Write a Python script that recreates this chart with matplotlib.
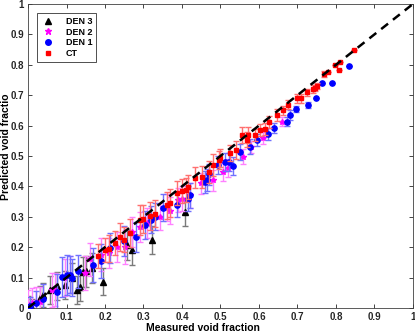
import matplotlib
matplotlib.use("Agg")
import matplotlib.pyplot as plt
from matplotlib.lines import Line2D

plt.rcParams['font.family'] = ['Liberation Sans', 'DejaVu Sans']
plt.rcParams['font.weight'] = 'bold'

# CT (red squares)
ct_x = [0.182, 0.20, 0.21, 0.226, 0.24, 0.25, 0.265, 0.29, 0.30, 0.318, 0.33, 0.36, 0.37, 0.387,
        0.40, 0.41, 0.416, 0.434, 0.452, 0.47, 0.48, 0.496, 0.50, 0.525, 0.54, 0.556, 0.569, 0.571,
        0.59, 0.603, 0.615, 0.626, 0.646, 0.663, 0.676, 0.698, 0.71, 0.724, 0.74, 0.745, 0.75,
        0.77, 0.78, 0.797, 0.808, 0.81, 0.847]
ct_y = [0.171, 0.19, 0.195, 0.214, 0.233, 0.225, 0.247, 0.289, 0.293, 0.303, 0.31, 0.338, 0.345, 0.378,
        0.385, 0.388, 0.398, 0.428, 0.431, 0.447, 0.47, 0.487, 0.493, 0.51, 0.52, 0.569, 0.553, 0.569,
        0.57, 0.586, 0.59, 0.612, 0.635, 0.651, 0.668, 0.69, 0.69, 0.71, 0.72, 0.725, 0.73,
        0.77, 0.776, 0.80, 0.783, 0.81, 0.849]
ct_err = [0.04, 0.04, 0.045, 0.04, 0.045, 0.04, 0.045, 0.05, 0.045, 0.045, 0.045, 0.045, 0.045, 0.04,
          0.04, 0.04, 0.04, 0.035, 0.035, 0.035, 0.035, 0.03, 0.03, 0.025, 0.03, 0.025, 0.025, 0.025,
          0.02, 0.02, 0.02, 0.02, 0.02, 0.015, 0.015, 0.015, 0.015, 0.012, 0.012, 0.01, 0.01,
          0.01, 0.0, 0.0, 0.0, 0.0, 0.0]

# DEN 1 (blue circles)
d1_x = [0.005, 0.02, 0.04, 0.075, 0.088, 0.101, 0.11, 0.114, 0.13, 0.169, 0.19, 0.213, 0.25, 0.28,
        0.304, 0.32, 0.33, 0.35, 0.387, 0.416, 0.42, 0.46, 0.465, 0.47, 0.494, 0.512, 0.522, 0.532,
        0.55, 0.577, 0.595, 0.624, 0.64, 0.672, 0.68, 0.695, 0.727, 0.748, 0.764, 0.79, 0.834]
d1_y = [0.005, 0.015, 0.03, 0.053, 0.102, 0.109, 0.11, 0.10, 0.12, 0.141, 0.155, 0.197, 0.22, 0.234,
        0.273, 0.29, 0.30, 0.33, 0.339, 0.36, 0.37, 0.414, 0.421, 0.44, 0.47, 0.48, 0.48, 0.467,
        0.513, 0.53, 0.553, 0.572, 0.592, 0.612, 0.635, 0.655, 0.668, 0.69, 0.74, 0.74, 0.796]
d1_err = [0.03, 0.04, 0.05, 0.06, 0.065, 0.065, 0.06, 0.06, 0.055, 0.055, 0.055, 0.05, 0.05, 0.05,
          0.045, 0.045, 0.045, 0.045, 0.04, 0.04, 0.04, 0.035, 0.035, 0.035, 0.03, 0.03, 0.03, 0.03,
          0.025, 0.025, 0.02, 0.02, 0.015, 0.015, 0.015, 0.01, 0.01, 0.0, 0.0, 0.0, 0.0]

# DEN 2 (magenta stars)
d2_x = [0.0, 0.01, 0.02, 0.03, 0.062, 0.07, 0.096, 0.11, 0.148, 0.16, 0.19, 0.21, 0.23, 0.252,
        0.27, 0.291, 0.31, 0.343, 0.36, 0.37, 0.39, 0.40, 0.42, 0.45, 0.48, 0.506, 0.52, 0.558,
        0.58, 0.61, 0.66]
d2_y = [0.0, 0.016, 0.02, 0.02, 0.059, 0.06, 0.10, 0.11, 0.115, 0.16, 0.175, 0.18, 0.20, 0.20,
        0.25, 0.266, 0.28, 0.30, 0.33, 0.32, 0.355, 0.36, 0.37, 0.41, 0.42, 0.447, 0.46, 0.497,
        0.53, 0.56, 0.612]
d2_err = [0.06, 0.05, 0.05, 0.05, 0.055, 0.055, 0.06, 0.06, 0.055, 0.055, 0.055, 0.05, 0.05, 0.055,
          0.05, 0.05, 0.05, 0.045, 0.045, 0.045, 0.04, 0.04, 0.04, 0.035, 0.035, 0.03, 0.03, 0.025,
          0.02, 0.02, 0.015]

# DEN 3 (black triangles)
d3_x = [0.0, 0.01, 0.031, 0.04, 0.057, 0.075, 0.096, 0.114, 0.127, 0.135, 0.143, 0.15, 0.166,
        0.195, 0.257, 0.27, 0.322, 0.408]
d3_y = [0.01, 0.0, 0.033, 0.043, 0.059, 0.072, 0.076, 0.099, 0.059, 0.069, 0.118, 0.12, 0.132,
        0.086, 0.207, 0.191, 0.224, 0.316]
d3_err = [0.03, 0.03, 0.04, 0.04, 0.045, 0.045, 0.045, 0.05, 0.045, 0.045, 0.05, 0.05, 0.05,
          0.045, 0.05, 0.05, 0.045, 0.045]

fig = plt.figure(figsize=(4.15, 3.34), dpi=100)
ax = fig.add_axes([0.0675, 0.078, 0.9275, 0.91])

ax.errorbar(d3_x, d3_y, yerr=d3_err, fmt='^', color='black', ms=3.8, ecolor='#7a7a7a',
            elinewidth=1, capsize=2.4, zorder=2)
ax.errorbar(d2_x, d2_y, yerr=d2_err, fmt='*', color='#ff00ff', ms=4.2, ecolor='#ff80ff',
            elinewidth=1, capsize=2.4, zorder=3)
ax.errorbar(d1_x, d1_y, yerr=d1_err, fmt='o', color='#0000ff', ms=3.8, ecolor='#7070ff',
            elinewidth=1, capsize=2.4, zorder=4)
ax.errorbar(ct_x, ct_y, yerr=ct_err, fmt='s', color='#ff0000', ms=3.3, ecolor='#ff7070',
            elinewidth=1, capsize=2.4, zorder=5)

ax.plot([0, 1], [0, 1], '--', color='black', lw=1.8, dashes=(3.5, 2.5), zorder=6)

ax.set_xlim(0, 1)
ax.set_ylim(0, 1)
ax.set_xticks([0, 0.1, 0.2, 0.3, 0.4, 0.5, 0.6, 0.7, 0.8, 0.9, 1])
ax.set_yticks([0, 0.1, 0.2, 0.3, 0.4, 0.5, 0.6, 0.7, 0.8, 0.9, 1])
ax.set_xticklabels(['0', '0.1', '0.2', '0.3', '0.4', '0.5', '0.6', '0.7', '0.8', '0.9', '1'])
ax.set_yticklabels(['0', '0.1', '0.2', '0.3', '0.4', '0.5', '0.6', '0.7', '0.8', '0.9', '1'])
ax.tick_params(direction='in', length=3, width=0.6, labelsize=7, top=True, right=True,
               colors='#262626', pad=3)
for s in ax.spines.values():
    s.set_color('#404040')
    s.set_linewidth(0.6)

ax.set_xlabel('Measured void fraction', fontsize=7.5, fontweight='bold', labelpad=3)
ax.xaxis.set_label_coords(0.455, -0.05)
ax.set_ylabel('Predicted void fractio', fontsize=7.5, fontweight='bold')
ax.yaxis.set_label_coords(-0.044, 0.53)

handles = [
    Line2D([], [], ls='none', marker='^', color='black', ms=4),
    Line2D([], [], ls='none', marker='*', color='#ff00ff', ms=4.5),
    Line2D([], [], ls='none', marker='o', color='#0000ff', ms=4),
    Line2D([], [], ls='none', marker='s', color='#ff0000', ms=3.5),
]
leg = ax.legend(handles, ['DEN 3', 'DEN 2', 'DEN 1', 'CT'], loc='upper left',
                bbox_to_anchor=(0.023, 0.97), fontsize=6.5, frameon=True, fancybox=False,
                borderpad=0.4, labelspacing=0.2, handletextpad=1.2, handlelength=1.6,
                borderaxespad=0)
leg.get_frame().set_edgecolor('black')
leg.get_frame().set_linewidth(0.6)

fig.savefig('out.png', dpi=100)
